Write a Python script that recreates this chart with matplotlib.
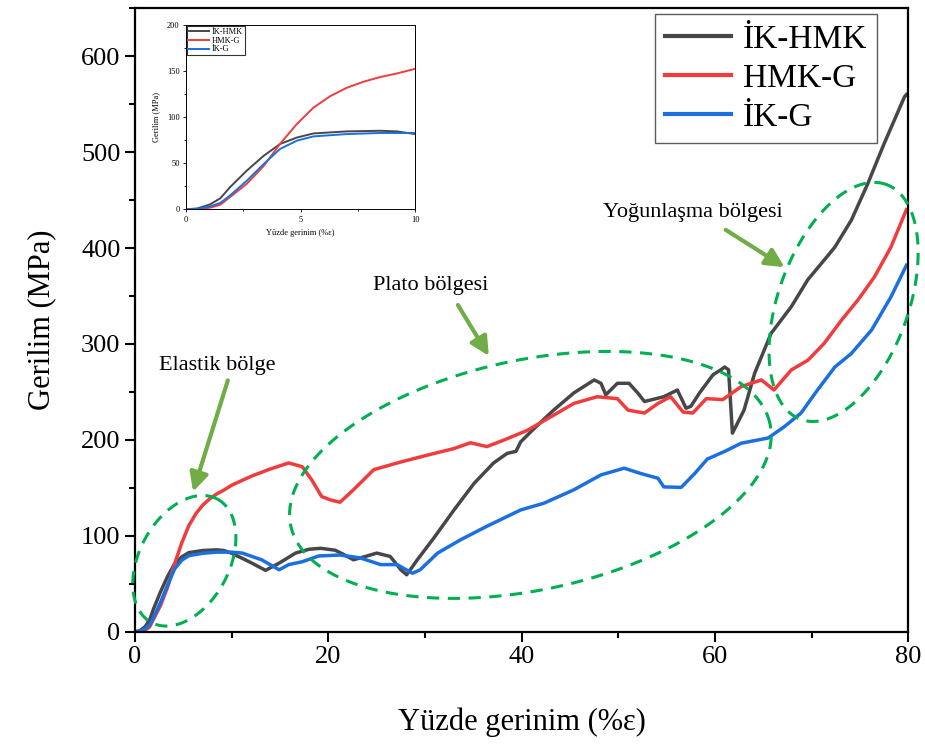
import numpy as np
import matplotlib
matplotlib.use("Agg")
import matplotlib.pyplot as plt

plt.rcParams['font.family'] = ['Liberation Serif', 'DejaVu Serif']

# İK-HMK
x_ikhmk = [0, 0.5, 1.05, 1.5, 1.92, 2.65, 3.38, 4.1, 4.83, 5.56, 7.0, 8.47, 9.2, 10,
           11, 12.1, 13.5, 14.9, 16.6, 18, 19.2, 20.7, 21.5, 22.6, 24, 25.0, 26.4,
           27.5, 28.1, 29.2, 30.9, 33.0, 35.1, 37.1, 38.5, 39.4, 39.9, 41.3, 43.3,
           45.4, 47.5, 48.2, 48.7, 49.9, 51.1, 52.0, 52.7, 53.9, 54.7, 56.1, 57.0,
           57.5, 58.4, 59.8, 60.6, 61.0, 61.4, 61.8, 63.0, 64.1, 65.8, 67.9,
           69.6, 71.3, 72.4, 74.1, 75.8, 77.5, 79.6, 79.8]
y_ikhmk = [0, 1, 5.4, 12, 24, 42, 58, 71, 78, 82.5, 84.7, 85.4, 84.7, 81.8,
           77, 71.5, 64, 71.5, 82, 86, 87, 85, 81, 75, 79, 82, 78.5,
           64.6, 59.4, 75, 97.6, 127, 155, 176, 186, 188, 198, 212, 231,
           249, 262.5, 259, 247, 259, 259, 249, 240, 243, 245, 252, 233,
           235, 249, 268, 273, 276, 273, 207, 231, 269.5, 311, 339,
           367, 387.5, 401, 429, 467, 509, 557.6, 560]

# HMK-G
x_hmkg = [0, 0.5, 1.05, 1.5, 1.92, 2.65, 3.38, 4.1, 4.83, 5.56, 6.29, 7.0, 7.74,
          8.47, 9.2, 10, 12, 13.8, 15.9, 17.3, 18.3, 19.3, 20.2, 21.2, 22.6, 24.7,
          27.5, 30.2, 33.0, 34.7, 36.4, 38.2, 40.6, 43.0, 45.4, 47.8, 49.9, 51.0,
          52.7, 54.1, 55.4, 56.7, 57.7, 59.1, 60.8, 62.7, 64.8, 66.1, 67.9, 69.6,
          71.3, 73.1, 74.8, 76.5, 78.2, 79.8]
y_hmkg = [0, 0.3, 1.8, 5, 13.3, 27.7, 46.8, 71, 92.6, 110.6, 123, 132, 138.7,
          143.8, 147.7, 152.8, 162, 169, 176, 172, 158, 141, 137.5, 135, 148, 169,
          177, 184, 191, 197, 193, 200, 210, 224, 238, 245, 243, 231,
          228, 238, 245, 229, 228, 243, 242, 255.5, 262.5, 252, 273, 283,
          300.7, 325, 346, 370, 401, 440]

# İK-G
x_ikg = [0, 0.5, 1.05, 1.5, 1.92, 2.65, 3.38, 4.1, 4.83, 5.56, 7.0, 8.47, 10,
         11.1, 13.1, 14.9, 15.9, 17.3, 19.0, 21.2, 23.3, 25.4, 27.1, 28.7, 29.5,
         31.3, 33.7, 36.4, 39.9, 42.3, 45.4, 48.2, 50.6, 52.3, 54.1, 54.7, 56.5,
         57.9, 59.2, 61.0, 62.7, 65.5, 67.2, 68.9, 70.6, 72.4, 74.1, 76.2, 78.2, 79.8]
y_ikg = [0, 0.5, 3.2, 7, 15, 31, 49, 65.6, 74.6, 79.3, 81.8, 83, 83,
         82, 75, 64.6, 70, 73, 79, 80, 77, 70, 70, 61, 64.6,
         82, 96, 110, 127, 134, 148, 163.5, 170.5, 165, 160, 151, 150.5,
         165, 180, 188, 196.5, 202, 214, 228, 252, 276, 290, 314.6, 349, 382]

series = [("İK-HMK", x_ikhmk, y_ikhmk, "#474747"),
          ("HMK-G", x_hmkg, y_hmkg, "#f03c3c"),
          ("İK-G", x_ikg, y_ikg, "#1b6fe0")]

fig = plt.figure(figsize=(9.25, 7.45), dpi=100)
ax = fig.add_axes([0.146, 0.152, 0.836, 0.837])

for name, xs, ys, c in series:
    ax.plot(xs, ys, color=c, lw=2.5, label=name)

ax.set_xlim(0, 80)
ax.set_ylim(0, 650)
ax.set_xticks([0, 20, 40, 60, 80])
ax.set_xticks([10, 30, 50, 70], minor=True)
ax.set_yticks(range(0, 601, 100))
ax.set_yticks(range(50, 651, 100), minor=True)
ax.tick_params(which='major', length=7, width=1.5, labelsize=19, direction='out')
ax.tick_params(which='minor', length=4, width=1.5, direction='out')
for s in ax.spines.values():
    s.set_linewidth(1.6)
ax.set_xlabel("Yüzde gerinim (%ε)", fontsize=22, labelpad=28)
ax.set_ylabel("Gerilim (MPa)", fontsize=22, labelpad=18)

leg = ax.legend(loc='upper right', fontsize=24, frameon=True, fancybox=False,
                edgecolor='#333333', handlelength=2.0, borderpad=0.3,
                labelspacing=0.25, handletextpad=0.35, borderaxespad=0,
                bbox_to_anchor=(0.96, 0.99))
leg.get_frame().set_linewidth(1.0)
for ln in leg.get_lines():
    ln.set_linewidth(3)

# dashed ellipses (centre in data units, semi-axes/angle in pixels)
bb = ax.get_position()
sx = bb.width * fig.get_figwidth() * fig.dpi / 80
sy = bb.height * fig.get_figheight() * fig.dpi / 650
t = np.linspace(0, 2 * np.pi, 300)
for cx, cy, a, b, ang in [(5.1, 74, 70, 45, 62),
                          (40.9, 163.5, 245, 115, 12),
                          (73.3, 343.8, 125, 65, 70)]:
    th = np.radians(ang)
    px = a * np.cos(t) * np.cos(th) - b * np.sin(t) * np.sin(th)
    py = a * np.cos(t) * np.sin(th) + b * np.sin(t) * np.cos(th)
    ax.plot(cx + px / sx, cy + py / sy, color='#00b050', lw=2.2,
            dashes=(4, 2.8), clip_on=False, zorder=5)

green = '#70ad47'
arrow = dict(arrowstyle='-|>', color=green, lw=3, mutation_scale=28, shrinkA=0, shrinkB=0)
ax.annotate("", xy=(6.0, 146), xytext=(9.6, 262), arrowprops=arrow)
ax.annotate("", xy=(36.6, 287.5), xytext=(33.4, 340.6), arrowprops=arrow)
ax.annotate("", xy=(67.2, 380), xytext=(61.1, 419), arrowprops=arrow)
ax.text(8.5, 278, "Elastik bölge", fontsize=16, ha='center', va='center')
ax.text(30.6, 361, "Plato bölgesi", fontsize=16, ha='center', va='center')
ax.text(57.7, 437.5, "Yoğunlaşma bölgesi", fontsize=16, ha='center', va='center')

# inset with first 10 % strain
ins = fig.add_axes([0.201, 0.719, 0.248, 0.247])
for name, xs, ys, c in series:
    ins.plot(xs, ys, color=c, lw=1.4, label=name)
ins.set_xlim(0, 10)
ins.set_ylim(0, 200)
ins.set_xticks([0, 5, 10])
ins.set_xticks([2.5, 7.5], minor=True)
ins.set_yticks([0, 50, 100, 150, 200])
ins.set_yticks([25, 75, 125, 175], minor=True)
ins.tick_params(which='major', length=2.5, width=0.6, labelsize=6, pad=2)
ins.tick_params(which='minor', length=1.5, width=0.6)
for s in ins.spines.values():
    s.set_linewidth(0.7)
ins.set_xlabel("Yüzde gerinim (%ε)", fontsize=6, labelpad=4)
ins.set_ylabel("Gerilim (MPa)", fontsize=6, labelpad=5)
il = ins.legend(loc='upper left', fontsize=6, frameon=True, fancybox=False,
                edgecolor='black', borderpad=0.2, labelspacing=0.1,
                handlelength=2.5, handletextpad=0.3, borderaxespad=0.1)
il.get_frame().set_linewidth(0.8)

fig.savefig("out.png", dpi=100)
